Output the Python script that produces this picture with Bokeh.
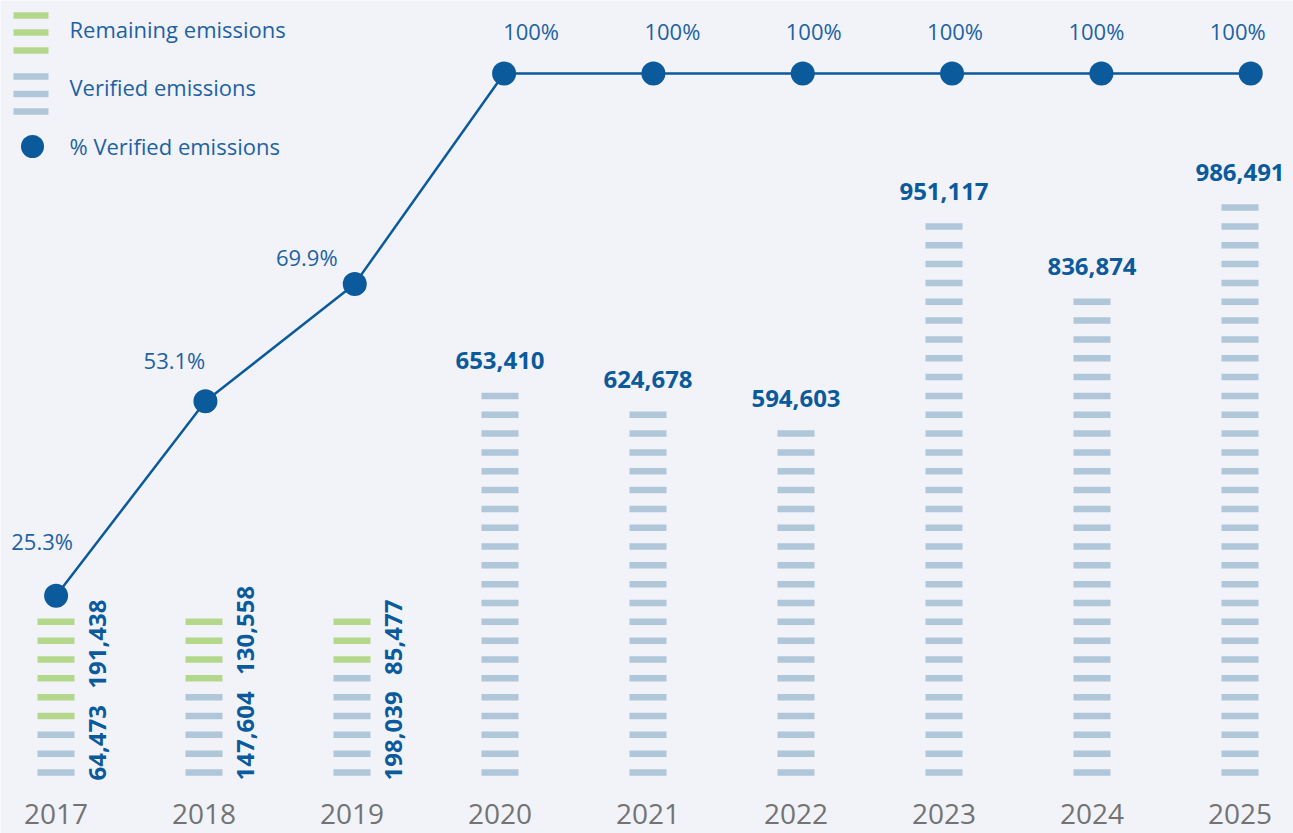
import math
from bokeh.plotting import figure
from bokeh.models import Range1d
from bokeh.core.properties import value
from bokeh.embed import file_html
from bokeh.resources import INLINE

# ---------------- data ----------------
years = ["2017", "2018", "2019", "2020", "2021", "2022", "2023", "2024", "2025"]
verified = [64473, 147604, 198039, 653410, 624678, 594603, 951117, 836874, 986491]
remaining = [191438, 130558, 85477, 0, 0, 0, 0, 0, 0]
pct_verified = [25.3, 53.1, 69.9, 100, 100, 100, 100, 100, 100]
legend_labels = ["Remaining emissions", "Verified emissions", "% Verified emissions"]

# ---------------- style / geometry ----------------
BG = "#f2f3f9"
BLUE_DASH = "#b0c6d9"
GREEN_DASH = "#b4d88b"
DARK = "#0b5a9c"
TEXT_BLUE = "#1d62a3"
GREY = "#737373"
FONT = "Open Sans"

UNIT = 33365          # emissions represented by one dash
W, FH = 1293, 833     # frame size
BASE_PX = 772         # zero line, px from top of frame
DASH_PX = 18.83       # vertical pitch of dashes
X0_PX, COL_PX = 55.5, 148.0
LX0_PX, LCOL_PX = 55.6, 149.33
K = DASH_PX / UNIT
PCT_PX = (BASE_PX - 73) / 100.0

x_range = Range1d(-X0_PX / COL_PX, (W - X0_PX) / COL_PX)
y_range = Range1d(-(FH - BASE_PX) / K, BASE_PX / K)

p = figure(width=W, height=FH, x_range=x_range, y_range=y_range,
           output_backend="svg", toolbar_location=None, min_border=0,
           y_axis_location=None, x_axis_location=None,
           background_fill_color=BG, border_fill_color=BG, outline_line_color=None)
p.extra_x_ranges = {"line": Range1d(-LX0_PX / LCOL_PX, (W - LX0_PX) / LCOL_PX)}
p.extra_y_ranges = {"pct": Range1d(-(FH - BASE_PX) / PCT_PX, BASE_PX / PCT_PX)}
p.grid.visible = False

idx = list(range(len(years)))

# year (category) labels under the columns
p.text(idx, [0] * len(years), text=years, y_offset=41, text_align="center",
       text_baseline="middle", text_font=value(FONT), text_font_size="28px",
       text_color=GREY)

# ---------------- dashes (pictorial bars) ----------------
xs, ys, cols = [], [], []
top_x, top_y, top_t = [], [], []
for i, (v, r) in enumerate(zip(verified, remaining)):
    n = round((v + r) / UNIT) + 1
    ng = round(r / UNIT)
    for k in range(n):
        xs.append(i)
        ys.append(k * UNIT)
        cols.append(GREEN_DASH if k >= n - ng else BLUE_DASH)
    if r == 0:
        top_x.append(i)
        top_y.append((n - 1) * UNIT)
        top_t.append(f"{v:,}")

p.rect(xs, ys, width=37, height=6.5, width_units="screen", height_units="screen",
       fill_color=cols, line_color=None)

# value labels on top of fully verified years
p.text(top_x, top_y, text=top_t, text_align="center", text_baseline="alphabetic",
       y_offset=-35, text_font=value(FONT), text_font_style="bold",
       text_font_size="24px", text_color=DARK)

# rotated labels for stacked years
def text_w(s, size=24):
    return sum((0.30 if c == "," else 0.572) * size for c in s)

rx, ry, rt, roff = [], [], [], []
for i, (v, r) in enumerate(zip(verified, remaining)):
    if r > 0:
        tv, tr = f"{v:,}", f"{r:,}"
        rx += [i, i]
        ry += [0, 0]
        rt += [tv, tr]
        roff += [8, 8 - (text_w(tv) + 16)]
p.text(rx, ry, text=rt, angle=math.pi / 2, text_align="left", text_baseline="middle",
       x_offset=41, y_offset=roff, text_font=value(FONT), text_font_style="bold",
       text_font_size="24px", text_color=DARK)

# ---------------- % verified line ----------------
p.line(idx, pct_verified, x_range_name="line", y_range_name="pct",
       line_color=DARK, line_width=2.5)
p.scatter(idx, pct_verified, x_range_name="line", y_range_name="pct",
          size=24, fill_color=DARK, line_color=None)
pct_txt = [f"{v:g}%" for v in pct_verified]
pct_xoff = [(27 - 8 * (i - 3)) if v >= 100 else (-14 - 17 * i)
            for i, v in enumerate(pct_verified)]
pct_yoff = [-43 if v >= 100 else (-55 + 14 * i) for i, v in enumerate(pct_verified)]
p.text(idx, pct_verified, text=pct_txt, x_range_name="line", y_range_name="pct",
       x_offset=pct_xoff, y_offset=pct_yoff,
       text_align="center", text_baseline="middle", text_font=value(FONT),
       text_font_size="22px", text_color=TEXT_BLUE)

# ---------------- legend (top-left) ----------------
def dx(px):
    return (px - X0_PX) / COL_PX

def dy(px):
    return (BASE_PX - px) / K

lg_x = [dx(30.5)] * 6
lg_y = [dy(v) for v in (15, 32, 50, 76, 93.5, 111)]
lg_c = [GREEN_DASH] * 3 + [BLUE_DASH] * 3
p.rect(lg_x, lg_y, width=35, height=6.5, width_units="screen", height_units="screen",
       fill_color=lg_c, line_color=None)
p.scatter([dx(32)], [dy(146)], size=23, fill_color=DARK, line_color=None)
p.text([dx(69)] * 3, [dy(28.5), dy(86.5), dy(145.5)], text=legend_labels,
       text_align="left", text_baseline="middle", text_font=value(FONT),
       text_font_size="22px", text_color=TEXT_BLUE)

open("out.html", "w").write(file_html(p, INLINE))
